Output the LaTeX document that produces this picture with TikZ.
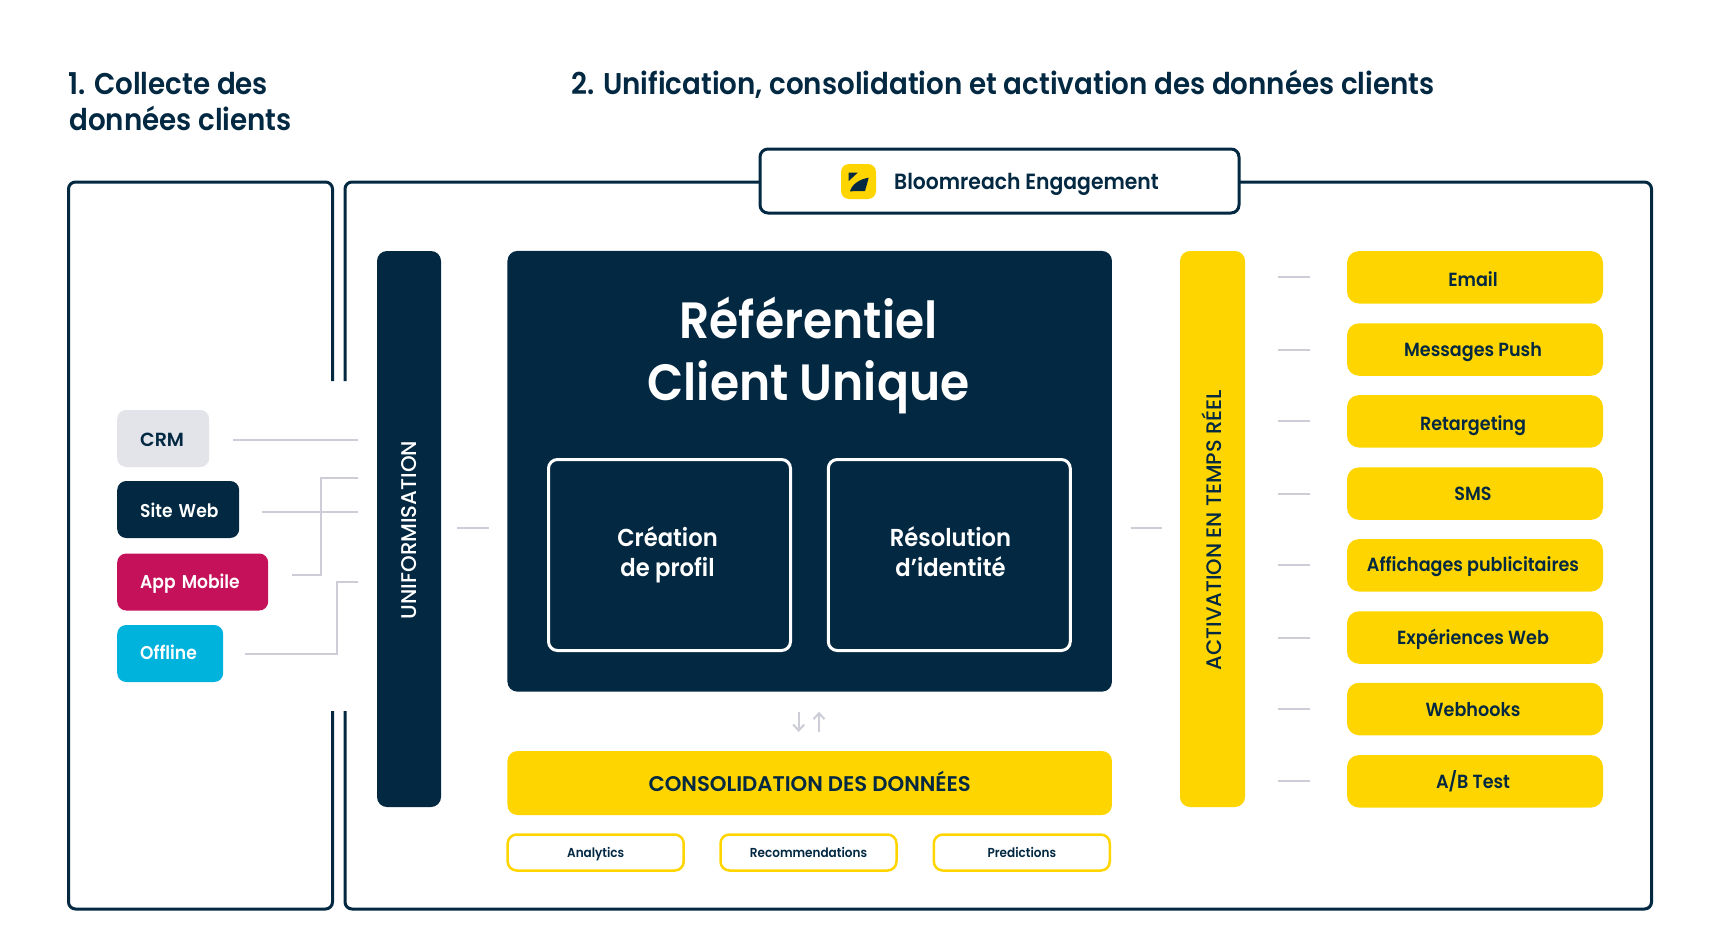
\documentclass[tikz,border=0pt]{standalone}
\usepackage{fontspec}
\setmainfont{Poppins Medium}
\newfontfamily\popn[FakeStretch=.925]{Poppins SemiBold}
\newfontfamily\pops{Poppins SemiBold}
\newfontfamily\popw{Poppins Medium}
\usetikzlibrary{arrows.meta}
\definecolor{navy}{HTML}{022842}
\definecolor{sun}{HTML}{FFD500}
\definecolor{rule}{HTML}{CCCDD6}
\definecolor{mist}{HTML}{E2E4EA}
\definecolor{berry}{HTML}{C5105A}
\definecolor{sky}{HTML}{00B3DC}
\newcommand{\fs}[1]{\fontsize{#1}{#1}\selectfont}
\newcommand{\dn}[2]{\raisebox{-#1pt}{#2}}
\tikzset{
  x=1pt,y=-1pt,
  frame/.style={draw=navy,line width=3pt,rounded corners=7pt},
  solid box/.style={rectangle,inner sep=0pt,rounded corners=#1},
  solid box/.default=10pt,
  bar/.style={solid box,text depth=0pt},
  source/.style={solid box=9pt,fill=#1,align=left,inner xsep=23pt,inner ysep=0pt,minimum height=57pt,text depth=0pt,text height=13pt,anchor=west,font=\popn\fs{18.5}},
  channel/.style={solid box=12pt,fill=sun,text=navy,minimum width=256pt,minimum height=52.5pt,text depth=0pt,text height=13.5pt,font=\popn\fs{19}},
  tool/.style={solid box=9pt,draw=sun,line width=2.5pt,fill=white,text=navy,minimum width=176pt,minimum height=36pt,text depth=0pt,text height=9pt,font=\popn\fs{13}},
  inner panel/.style={solid box=9pt,draw=white,line width=3pt,minimum width=242pt,minimum height=191pt},
  wire/.style={draw=rule,line width=2pt},
  title/.style={anchor=base west,inner sep=0pt,text=navy,font=\popn\fs{30}},
  flow/.style={wire,-{Straight Barb[length=6pt,width=11pt,line width=2pt]}},
}
\begin{document}
\begin{tikzpicture}
\useasboundingbox (0,0) rectangle (1720,950);
\fill[white] (0,0) rectangle (1720,950);
% headings
\node[title] (t1a) at (68,94) {1. Collecte des};
\node[title] (t1b) at (69,130) {données clients};
\node[title] (t2) at (571,94) {2. Unification, consolidation et activation des données clients};
% frames
\draw[frame] (332.5,381) -- (332.5,182) -- (68.5,182) -- (68.5,909) -- (332.5,909) -- (332.5,711);
\draw[frame] (345,381) -- (345,182) -- (1651.5,182) -- (1651.5,909) -- (345,909) -- (345,711);
\node[solid box=8pt,draw=navy,line width=3pt,fill=white,minimum width=479pt,minimum height=64pt] (brand) at (999.5,181) {};
\node[anchor=base west,inner sep=0pt,text=navy,font=\popn\fs{22}] (brandt) at (894,189) {Bloomreach Engagement};
\fill[sun,rounded corners=8pt] (841,164) rectangle (876,199);
\fill[navy] (848.7,172.7) -- (857.7,172.7) -- (848.7,181) -- cycle;
\fill[navy] (850,191.3) .. controls (852,184) and (860,179) .. (868.7,177.7) -- (865,191) -- cycle;
% sources
\node[source=mist,text=navy,text width=46pt,font=\pops\fs{19}] (crm) at (117,438.5) {\dn{1}{CRM}};
\node[source=navy,text=white,text width=76pt] (web) at (117,509.5) {\mbox{\dn{1}{Site Web}}};
\node[source=berry,text=white,text width=105pt] (app) at (117,582) {\mbox{App Mobile}};
\node[source=sky,text=white,text width=60pt] (off) at (117,653.5) {\dn{-1}{Offline}};
% uniformisation
\node[bar,fill=navy,minimum width=64pt,minimum height=556pt] (uni) at (409,529) {};
\node[rotate=90,inner sep=0pt,text=white,font=\popw\fs{21.3}] (unit) at (408.6,530) {UNIFORMISATION};
% main
\node[bar,fill=navy,minimum width=604.5pt,minimum height=440.7pt] (main) at (809.7,471.3) {};
\node[anchor=base,inner sep=0pt,text=white,font=\popn\fs{51}] (m1) at (808.5,338) {Référentiel};
\node[anchor=base,inner sep=0pt,text=white,font=\popn\fs{51}] (m2) at (808.5,400) {Client Unique};
\node[inner panel] (p1) at (669.5,555) {};
\node[inner panel] (p2) at (949.3,555) {};
\node[anchor=base,inner sep=0pt,text=white,font=\popn\fs{24.5}] (p1a) at (667.5,546) {Création};
\node[anchor=base,inner sep=0pt,text=white,font=\popn\fs{24.5}] (p1b) at (667.5,576) {de profil};
\node[anchor=base,inner sep=0pt,text=white,font=\popn\fs{24.5}] (p2a) at (950.5,546) {Résolution};
\node[anchor=base,inner sep=0pt,text=white,font=\popn\fs{24.5}] (p2b) at (950.5,576) {d’identité};
% consolidation
\node[bar,fill=sun,text=navy,minimum width=604.5pt,minimum height=64pt,text height=14.5pt,font=\pops\fs{21.2}] (cons) at (809.7,783) {\dn{1}{CONSOLIDATION DES DONNÉES}};
\node[tool] (an) at (595.7,852.5) {Analytics};
\node[tool] (rec) at (808.5,852.5) {Recommendations};
\node[tool] (pre) at (1021.8,852.5) {Predictions};
% activation
\node[bar,fill=sun,minimum width=65pt,minimum height=556pt] (act) at (1212.5,529) {};
\node[rotate=90,inner sep=0pt,text=navy,font=\popw\fs{21}] (actt) at (1212,530) {ACTIVATION EN TEMPS RÉEL};
% channels
\node[channel] (c1) at (1475,277.3) {\hspace*{-4pt}\dn{2}{Email}};
\node[channel] (c2) at (1475,349.5) {\hspace*{-4pt}Messages Push};
\node[channel] (c3) at (1475,421.3) {\hspace*{-4pt}\dn{2}{Retargeting}};
\node[channel] (c4) at (1475,493.6) {\hspace*{-4pt}SMS};
\node[channel] (c5) at (1475,565.3) {\hspace*{-4pt}\dn{-1}{Affichages publicitaires}};
\node[channel] (c6) at (1475,637.5) {\hspace*{-4pt}Expériences Web};
\node[channel] (c7) at (1475,709) {\hspace*{-4pt}\dn{1}{Webhooks}};
\node[channel] (c8) at (1475,781.3) {\hspace*{-4pt}A/B Test};
% connector ends
\coordinate (crmS) at (233,440); \coordinate (crmE) at (358,440);
\coordinate (webS) at (261.7,511.7); \coordinate (webE) at (358,511.7);
\coordinate (appS) at (292,575); \coordinate (appE) at (358,478);
\coordinate (offS) at (245,654); \coordinate (offE) at (358,581.7);
\coordinate (midL) at (0,528);
\draw[wire] (crmS) -- (crmE);
\draw[wire] (webS) -- (webE);
\draw[wire] (appS) -- (320.7,575) -- (320.7,478) -- (appE);
\draw[wire] (offS) -- (337,654) -- (337,581.7) -- (offE);
\draw[wire,shorten <=16pt,shorten >=18.5pt] (uni.east |- midL) -- (main.west |- midL);
\draw[wire,shorten <=18.5pt,shorten >=18pt] (main.east |- midL) -- (act.west |- midL);
\foreach \c in {c1,c2,c3,c4,c5,c6,c7,c8}
  \draw[wire,shorten <=33pt,shorten >=37pt] (act.east |- \c.west) -- (\c.west);
% arrows between store and consolidation
\draw[flow,shorten <=20pt,shorten >=19pt] (798.7,691.7) -- (798.7,751);
\draw[flow,shorten <=19.5pt,shorten >=20pt] (819,751) -- (819,691.7);
\end{tikzpicture}
\end{document}
